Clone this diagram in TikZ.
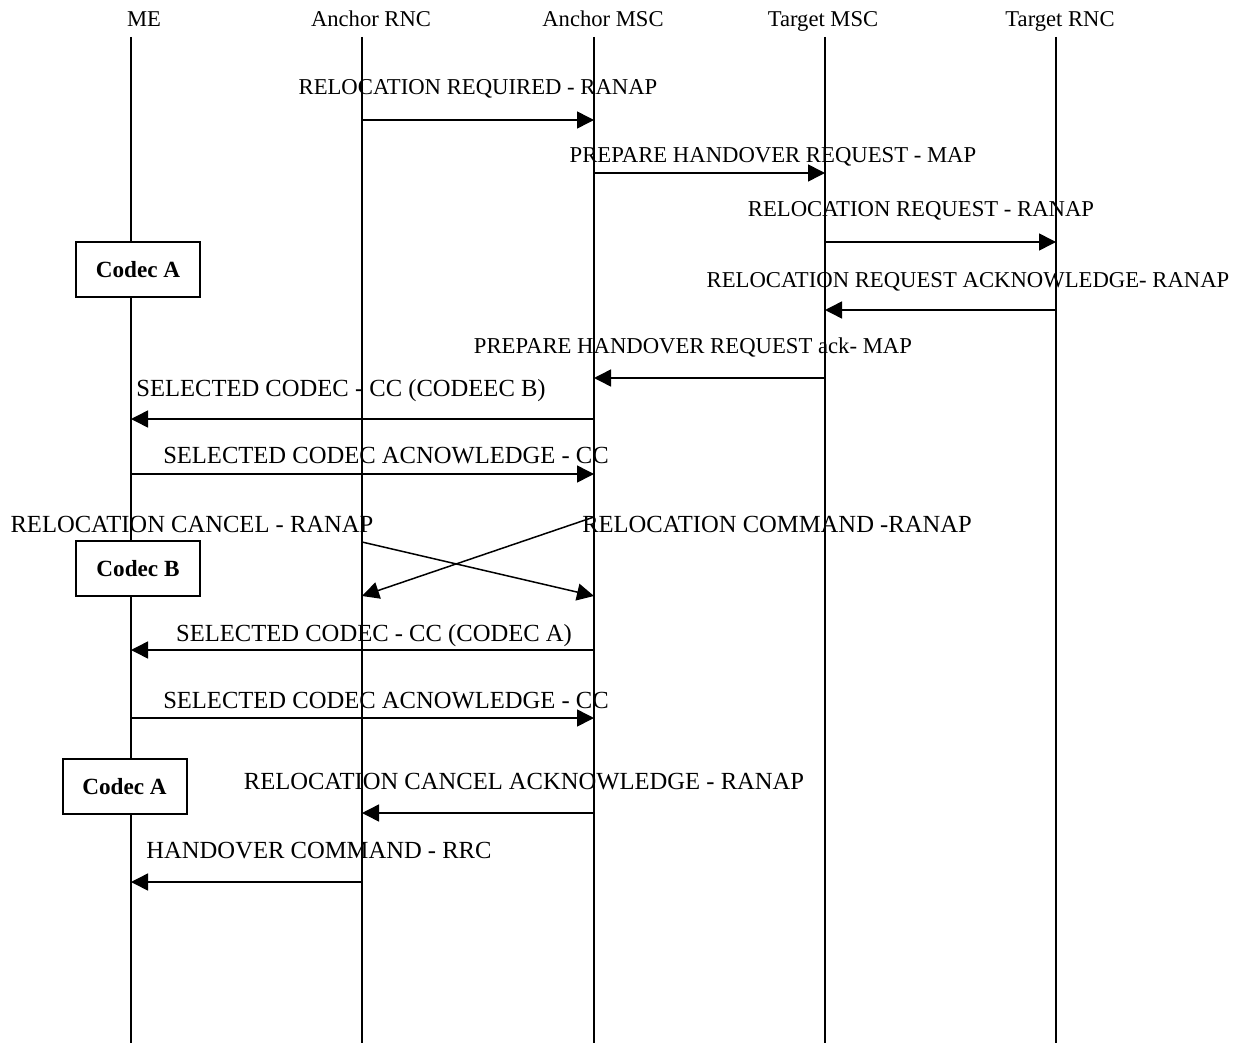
\documentclass[tikz,border=0pt]{standalone}
\usepackage{fontspec}
\setmainfont{Liberation Serif}
\usetikzlibrary{arrows.meta,calc}
\tikzset{
  life/.style={line width=0.75pt},
  msgarrow/.style={line width=0.75pt,-{Triangle[length=8.5pt,width=8.5pt]}},
  title/.style={anchor=base,inner sep=0pt,font=\fontsize{11.3pt}{13pt}\selectfont},
  smalllbl/.style={anchor=base,inner sep=0pt,font=\fontsize{11.35pt}{13pt}\selectfont},
  biglbl/.style={anchor=base,inner sep=0pt,font=\fontsize{12.3pt}{14pt}\selectfont},
  codecbox/.style={draw,line width=1pt,fill=white,minimum width=62pt,minimum height=27.5pt,inner sep=0pt,font=\bfseries\fontsize{11.6pt}{13pt}\selectfont}
}
\newcommand{\msgline}[3]{\draw[msgarrow] ($(#1)+(0,#3)$) -- ($(#2)+(0,#3)$);}
\begin{document}
\begin{tikzpicture}[x=0.5pt,y=-0.5pt]
\useasboundingbox (0,0) rectangle (1240,1043);
% lifeline x positions
\coordinate (me) at (131,0);
\coordinate (arnc) at (362,0);
\coordinate (amsc) at (594,0);
\coordinate (tmsc) at (825,0);
\coordinate (trnc) at (1056,0);
% titles
\node[title] (tME) at (144,27) {ME};
\node[title] (tARNC) at (371,27) {Anchor RNC};
\node[title] (tAMSC) at (603,27) {Anchor MSC};
\node[title] (tTMSC) at (823,27) {Target MSC};
\node[title] (tTRNC) at (1060,27) {Target RNC};
% lifelines
\foreach \l in {me,arnc,amsc,tmsc,trnc}{
  \draw[life] ($(\l)+(0,37)$) -- ($(\l)+(0,1043)$);
}
% codec boxes
\node[codecbox] (cA1) at (138,269.5) {Codec A};
\node[codecbox] (cB) at (138,568.5) {Codec B};
\node[codecbox] (cA2) at (124.5,786.5) {Codec A};
% messages
\node[smalllbl] (l1) at (478,95) {RELOCATION REQUIRED - RANAP};
\msgline{arnc}{amsc}{120}
\node[smalllbl] (l2) at (773,163) {PREPARE HANDOVER REQUEST - MAP};
\msgline{amsc}{tmsc}{173}
\node[smalllbl] (l3) at (921,217) {RELOCATION REQUEST - RANAP};
\msgline{tmsc}{trnc}{242}
\node[smalllbl] (l4) at (968,287) {RELOCATION REQUEST ACKNOWLEDGE- RANAP};
\msgline{trnc}{tmsc}{310}
\node[smalllbl] (l5) at (693,353) {PREPARE HANDOVER REQUEST ack- MAP};
\msgline{tmsc}{amsc}{378}
\node[biglbl] (l6) at (341,396) {SELECTED CODEC - CC (CODEEC B)};
\msgline{amsc}{me}{419}
\node[biglbl] (l7) at (386,463) {SELECTED CODEC ACNOWLEDGE - CC};
\msgline{me}{amsc}{474}
\node[biglbl] (l8) at (192,532) {RELOCATION CANCEL - RANAP};
\node[biglbl] (l9) at (777,532) {RELOCATION COMMAND -RANAP};
\draw[msgarrow] ($(arnc)+(0,542)$) -- ($(amsc)+(0,596)$);
\draw[msgarrow] ($(amsc)+(0,517)$) -- ($(arnc)+(0,596)$);
\node[biglbl] (l10) at (374,641.5) {SELECTED CODEC - CC (CODEC A)};
\msgline{amsc}{me}{650}
\node[biglbl] (l11) at (386,708) {SELECTED CODEC ACNOWLEDGE - CC};
\msgline{me}{amsc}{718}
\node[biglbl] (l12) at (524,789) {RELOCATION CANCEL ACKNOWLEDGE - RANAP};
\msgline{amsc}{arnc}{813}
\node[biglbl] (l13) at (319,858) {HANDOVER COMMAND - RRC};
\msgline{arnc}{me}{882}
\end{tikzpicture}
\end{document}
